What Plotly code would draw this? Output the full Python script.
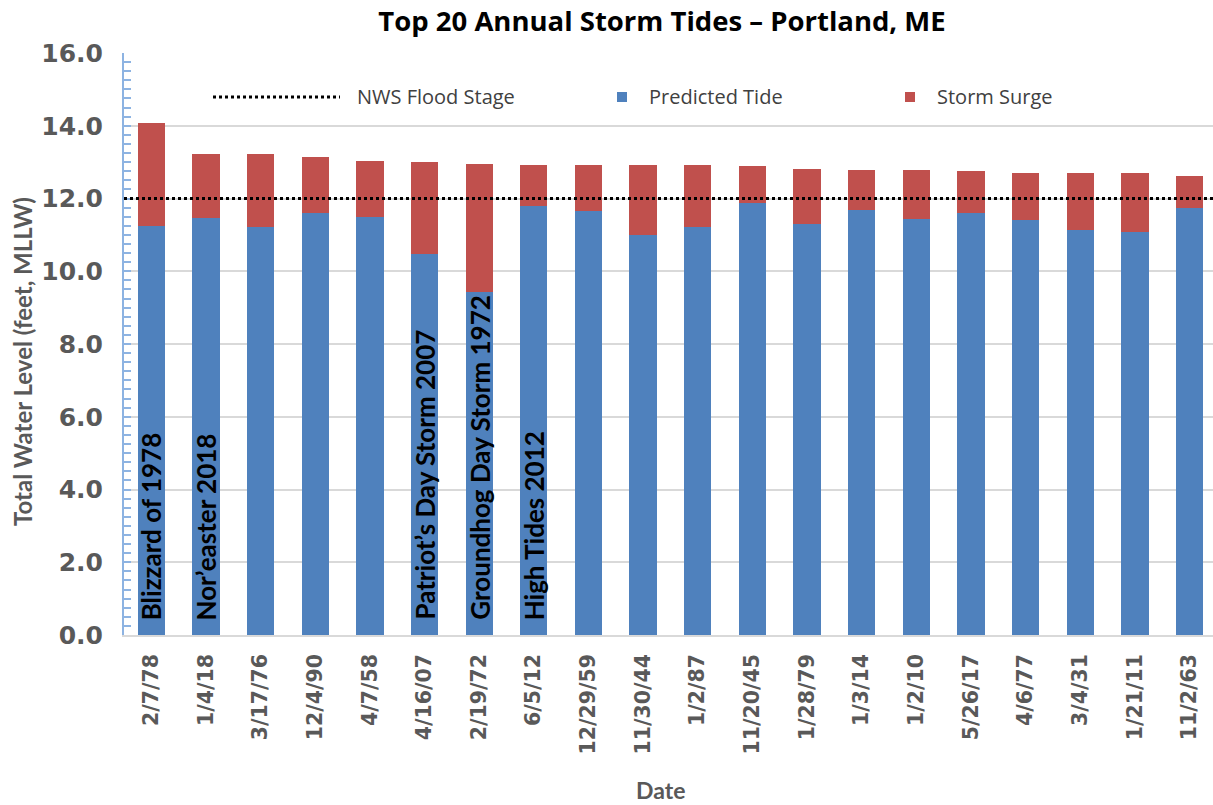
import plotly.graph_objects as go

# ---------------- data ----------------
dates = ["2/7/78", "1/4/18", "3/17/76", "12/4/90", "4/7/58", "4/16/07", "2/19/72",
         "6/5/12", "12/29/59", "11/30/44", "1/2/87", "11/20/45", "1/28/79", "1/3/14",
         "1/2/10", "5/26/17", "4/6/77", "3/4/31", "1/21/11", "11/2/63"]
predicted_tide = [11.25, 11.47, 11.23, 11.59, 11.50, 10.48, 9.44, 11.79, 11.67, 11.00,
                  11.23, 11.87, 11.29, 11.68, 11.43, 11.61, 11.40, 11.14, 11.08, 11.73]
total_level = [14.08, 13.23, 13.21, 13.15, 13.03, 13.00, 12.96, 12.93, 12.93, 12.93,
               12.92, 12.88, 12.82, 12.79, 12.79, 12.75, 12.71, 12.71, 12.71, 12.63]
storm_surge = [round(t - p, 2) for t, p in zip(total_level, predicted_tide)]
flood_stage = 12.0
storm_labels = {"2/7/78": "Blizzard of 1978", "1/4/18": "Nor\u2019easter 2018",
                "4/16/07": "Patriot\u2019s Day Storm 2007",
                "2/19/72": "Groundhog Day Storm 1972", "6/5/12": "High Tides 2012"}
y_ticks = [0, 2, 4, 6, 8, 10, 12, 14, 16]

BLUE = "#4f81bd"
RED = "#c0504d"
GRAY = "#595959"

# page body margin is removed below, so figure pixels = screen pixels
W, H = 1213, 805
L, R, T, B = 124, 1213, 53, 635
def px(x):  # screen x -> paper
    return (x - L) / (R - L)
def py(y):  # screen y -> paper
    return (B - y) / (B - T)

fig = go.Figure()
fig.add_trace(go.Bar(x=dates, y=predicted_tide, name="Predicted Tide",
                     marker=dict(color=BLUE, line=dict(width=0)), showlegend=False))
fig.add_trace(go.Bar(x=dates, y=storm_surge, name="Storm Surge",
                     marker=dict(color=RED, line=dict(width=0)), showlegend=False))

# flood stage line
fig.add_shape(type="line", xref="paper", yref="y", x0=0, x1=1, y0=flood_stage, y1=flood_stage,
              line=dict(color="black", width=3, dash="dot"), layer="above")

# storm name annotations inside bars
for d, txt in storm_labels.items():
    fig.add_annotation(x=d, y=0, xref="x", yref="y", text="<b>" + txt + "</b>",
                       textangle=-90, showarrow=False, xanchor="center", yanchor="bottom",
                       yshift=13, font=dict(family="Lato", size=26, color="black"))

# manual legend
ly = py(97)
fig.add_shape(type="line", xref="paper", yref="paper", x0=px(213), x1=px(340), y0=ly, y1=ly,
              line=dict(color="black", width=3, dash="dot"))
fig.add_annotation(x=px(355), y=ly, xref="paper", yref="paper", text="NWS Flood Stage",
                   showarrow=False, xanchor="left", yanchor="middle",
                   font=dict(family="Open Sans", size=20, color="#404040"))
for cx, color, label in [(622, BLUE, "Predicted Tide"), (910, RED, "Storm Surge")]:
    fig.add_shape(type="rect", xref="paper", yref="paper",
                  x0=px(cx - 5), x1=px(cx + 5), y0=py(102), y1=py(92),
                  fillcolor=color, line=dict(width=0))
    fig.add_annotation(x=px(cx + 25), y=ly, xref="paper", yref="paper", text=label,
                       showarrow=False, xanchor="left", yanchor="middle",
                       font=dict(family="Open Sans", size=20, color="#404040"))

# axis titles
fig.add_annotation(x=px(22), y=py(362), xref="paper", yref="paper",
                   text="<b>Total Water Level (feet, MLLW)</b>", textangle=-90, showarrow=False,
                   xanchor="center", yanchor="middle",
                   font=dict(family="Lato", size=24, color=GRAY))
fig.add_annotation(x=px(660), y=py(790), xref="paper", yref="paper",
                   text="<b>Date</b>", showarrow=False, xanchor="center", yanchor="middle",
                   font=dict(family="Lato", size=23, color=GRAY))

fig.update_layout(
    width=W, height=H,
    margin=dict(l=L, r=W - R, t=T, b=H - B),
    paper_bgcolor="white", plot_bgcolor="white",
    barmode="stack", bargap=0.5,
    title=dict(text="<b>Top 20 Annual Storm Tides \u2013 Portland, ME</b>",
               x=662 / W, xref="container", xanchor="center",
               y=1 - 21 / H, yref="container", yanchor="middle",
               font=dict(family="Open Sans", size=27.5, color="black")),
    xaxis=dict(type="category", range=[-0.5, 19.43], tickangle=-90,
               showline=True, linecolor="#d9d9d9", linewidth=1.5,
               ticks="", showgrid=False,
               tickfont=dict(family="DejaVu Sans", size=20.5, color=GRAY, weight="bold"),
               ticklabelstandoff=9),
    yaxis=dict(range=[0, 16], tickvals=y_ticks, ticktext=[f"{v:.1f}" for v in y_ticks],
               showline=True, linecolor="#8db3e2", linewidth=2,
               ticks="inside", ticklen=7, tickcolor="#8db3e2", tickwidth=1.5,
               minor=dict(dtick=0.25, tick0=0, ticks="inside", ticklen=7,
                          tickcolor="#8db3e2", tickwidth=1.5, showgrid=False),
               showgrid=True, gridcolor="#d9d9d9", gridwidth=1.5,
               zeroline=False,
               tickfont=dict(family="DejaVu Sans", size=25, color=GRAY, weight="bold"),
               ticklabelstandoff=14),
)

fig.write_html("out.html", config={"displayModeBar": False},
               post_script="document.body.style.margin='0px';document.body.style.overflow='hidden';")
